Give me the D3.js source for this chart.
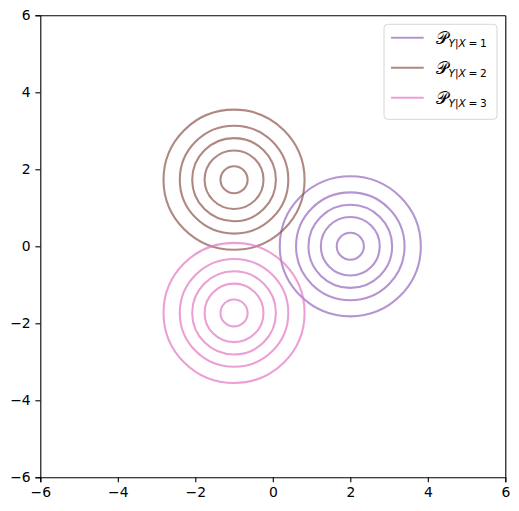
<!DOCTYPE html>
<html>
<head>
<meta charset="utf-8">
<script src="https://cdn.jsdelivr.net/npm/d3@7"></script>
<style>
  body { margin: 0; background: #fff; }
  text { font-family: "DejaVu Sans", sans-serif; }
</style>
</head>
<body>
<div id="chart"></div>
<script>
// data
var groups = ["1", "2", "3"];
var centersX = [2, -1, -1];
var centersY = [0, 1.73, -1.73];
var contourRadii = [0.35, 0.76, 1.08, 1.40, 1.82];
var tickValues = [-6, -4, -2, 0, 2, 4, 6];
var palette = ["#9467bd", "#8c564b", "#e377c2"];

var margin = {top: 15.3, left: 40.3},
    width = 465,
    height = 462;

var svg = d3.select("#chart").append("svg")
    .attr("width", 519)
    .attr("height", 511)
  .append("g")
    .attr("transform", "translate(" + margin.left + "," + margin.top + ")");

var x = d3.scaleLinear().domain([-6, 6]).range([0, width]);
var y = d3.scaleLinear().domain([-6, 6]).range([height, 0]);

// contour rings, one group per class
groups.forEach(function(g, i) {
    svg.append("g")
        .selectAll("ellipse")
        .data(contourRadii)
        .enter().append("ellipse")
        .attr("cx", x(centersX[i]))
        .attr("cy", y(centersY[i]))
        .attr("rx", function(r) { return x(centersX[i] + r) - x(centersX[i]); })
        .attr("ry", function(r) { return y(centersY[i]) - y(centersY[i] + r); })
        .attr("fill", "none")
        .attr("stroke", palette[i])
        .attr("stroke-opacity", 0.7)
        .attr("stroke-width", 2.08);
});

// axes
var fmt = function(d) { return d < 0 ? "\u2212" + Math.abs(d) : d; };
function styleAxis(a) {
    a.selectAll("path").attr("stroke", "#000").attr("stroke-width", 1.1);
    a.selectAll("line").attr("stroke", "#000").attr("stroke-width", 1.1);
    a.selectAll("text").attr("font-size", "13.9px").attr("fill", "#000")
        .attr("font-family", "DejaVu Sans");
}
svg.append("g")
    .attr("transform", "translate(0," + height + ")")
    .call(d3.axisBottom(x).tickValues(tickValues).tickFormat(fmt).tickSizeOuter(0).tickSize(4.9).tickPadding(4.8))
    .call(styleAxis);
svg.append("g")
    .call(d3.axisLeft(y).tickValues(tickValues).tickFormat(fmt).tickSizeOuter(0).tickSize(4.9).tickPadding(4.8))
    .call(styleAxis);
svg.append("g").attr("transform", "translate(" + width + ",0)")
    .call(d3.axisRight(y).tickValues([]).tickSizeOuter(0))
    .call(styleAxis);
svg.append("g")
    .call(d3.axisTop(x).tickValues([]).tickSizeOuter(0))
    .call(styleAxis);

// legend
var legend = svg.append("g")
    .attr("transform", "translate(" + (384 - margin.left) + "," + (24.3 - margin.top) + ")");
legend.append("rect")
    .attr("width", 113).attr("height", 95)
    .attr("rx", 3.5)
    .attr("fill", "#fff").attr("fill-opacity", 0.8)
    .attr("stroke", "#d6d6d6").attr("stroke-width", 1);

groups.forEach(function(g, i) {
    var row = legend.append("g").attr("transform", "translate(0," + (13.4 + i * 30) + ")");
    row.append("line")
        .attr("x1", 7).attr("x2", 39.7)
        .attr("stroke", palette[i]).attr("stroke-opacity", 0.7)
        .attr("stroke-width", 2.08);
    var t = row.append("text").attr("x", 52).attr("y", 6).attr("fill", "#000");
    t.append("tspan").attr("font-size", "17px").text("\uD835\uDCAB");
    t.append("tspan").attr("font-size", "10.6px").attr("dy", 3).attr("dx", 0.5).attr("font-style", "italic").text("Y");
    t.append("tspan").attr("font-size", "10.6px").text("|");
    t.append("tspan").attr("font-size", "10.6px").attr("font-style", "italic").text("X");
    t.append("tspan").attr("font-size", "10.6px").text("\u2005=\u2005" + g);
});
</script>
</body>
</html>
